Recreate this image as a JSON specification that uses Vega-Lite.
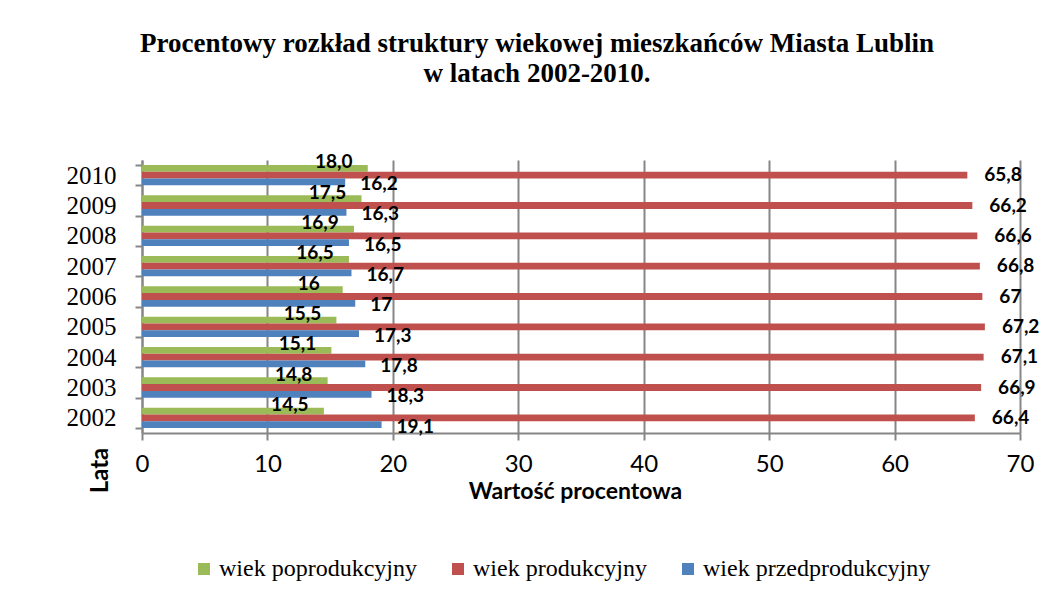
{
  "$schema": "https://vega.github.io/schema/vega-lite/v6.json",
  "width": 878,
  "height": 273,
  "autosize": {"type": "none"},
  "padding": {"left": 142, "top": 160, "right": 23, "bottom": 161},
  "background": "white",
  "view": {"stroke": null},
  "title": {
    "text": ["Procentowy rozkład struktury wiekowej mieszkańców Miasta Lublin", "w latach 2002-2010."],
    "font": "Liberation Serif",
    "fontSize": 27,
    "fontWeight": "bold",
    "color": "black",
    "lineHeight": 30,
    "anchor": "middle",
    "dx": -44,
    "offset": 60
  },
  "data": {
    "values": [
      {"year": 2010, "series": "wiek poprodukcyjny", "value": 18.0, "label": "18,0"},
      {"year": 2010, "series": "wiek produkcyjny", "value": 65.8, "label": "65,8"},
      {"year": 2010, "series": "wiek przedprodukcyjny", "value": 16.2, "label": "16,2"},
      {"year": 2009, "series": "wiek poprodukcyjny", "value": 17.5, "label": "17,5"},
      {"year": 2009, "series": "wiek produkcyjny", "value": 66.2, "label": "66,2"},
      {"year": 2009, "series": "wiek przedprodukcyjny", "value": 16.3, "label": "16,3"},
      {"year": 2008, "series": "wiek poprodukcyjny", "value": 16.9, "label": "16,9"},
      {"year": 2008, "series": "wiek produkcyjny", "value": 66.6, "label": "66,6"},
      {"year": 2008, "series": "wiek przedprodukcyjny", "value": 16.5, "label": "16,5"},
      {"year": 2007, "series": "wiek poprodukcyjny", "value": 16.5, "label": "16,5"},
      {"year": 2007, "series": "wiek produkcyjny", "value": 66.8, "label": "66,8"},
      {"year": 2007, "series": "wiek przedprodukcyjny", "value": 16.7, "label": "16,7"},
      {"year": 2006, "series": "wiek poprodukcyjny", "value": 16, "label": "16"},
      {"year": 2006, "series": "wiek produkcyjny", "value": 67, "label": "67"},
      {"year": 2006, "series": "wiek przedprodukcyjny", "value": 17, "label": "17"},
      {"year": 2005, "series": "wiek poprodukcyjny", "value": 15.5, "label": "15,5"},
      {"year": 2005, "series": "wiek produkcyjny", "value": 67.2, "label": "67,2"},
      {"year": 2005, "series": "wiek przedprodukcyjny", "value": 17.3, "label": "17,3"},
      {"year": 2004, "series": "wiek poprodukcyjny", "value": 15.1, "label": "15,1"},
      {"year": 2004, "series": "wiek produkcyjny", "value": 67.1, "label": "67,1"},
      {"year": 2004, "series": "wiek przedprodukcyjny", "value": 17.8, "label": "17,8"},
      {"year": 2003, "series": "wiek poprodukcyjny", "value": 14.8, "label": "14,8"},
      {"year": 2003, "series": "wiek produkcyjny", "value": 66.9, "label": "66,9"},
      {"year": 2003, "series": "wiek przedprodukcyjny", "value": 18.3, "label": "18,3"},
      {"year": 2002, "series": "wiek poprodukcyjny", "value": 14.5, "label": "14,5"},
      {"year": 2002, "series": "wiek produkcyjny", "value": 66.4, "label": "66,4"},
      {"year": 2002, "series": "wiek przedprodukcyjny", "value": 19.1, "label": "19,1"}
    ]
  },
  "encoding": {
    "y": {
      "field": "year",
      "type": "ordinal",
      "sort": "descending",
      "scale": {"paddingInner": 0.33, "paddingOuter": 0.165},
      "axis": {
        "title": "Lata",
        "titleFont": "Lato",
        "titleFontSize": 24,
        "titleFontWeight": "bold",
        "titleColor": "black",
        "titleAngle": -90,
        "titleAlign": "center",
        "titleBaseline": "middle",
        "titleX": -42,
        "titleY": 310,
        "labelFont": "Liberation Serif",
        "labelFontSize": 25,
        "labelColor": "black",
        "labelPadding": 19,
        "tickBand": "extent",
        "tickSize": 7,
        "tickColor": "#868686",
        "tickWidth": 2,
        "domainColor": "#868686",
        "domainWidth": 2,
        "grid": false
      }
    },
    "x": {
      "field": "value",
      "type": "quantitative",
      "scale": {"domain": [0, 70]},
      "axis": {
        "values": [0, 10, 20, 30, 40, 50, 60, 70],
        "title": "Wartość procentowa",
        "titleFont": "Lato",
        "titleFontSize": 23,
        "titleFontWeight": "bold",
        "titleColor": "black",
        "titleY": 47,
        "titleX": 433,
        "titleBaseline": "top",
        "labelFont": "Lato",
        "labelFontSize": 24,
        "labelColor": "black",
        "labelPadding": 12,
        "labelFlush": false,
        "tickSize": 7,
        "tickColor": "#868686",
        "tickWidth": 2,
        "domainColor": "#868686",
        "domainWidth": 2,
        "grid": true,
        "gridColor": "#868686",
        "gridWidth": 2
      }
    },
    "yOffset": {
      "field": "series",
      "type": "nominal",
      "scale": {"domain": ["wiek poprodukcyjny", "wiek produkcyjny", "wiek przedprodukcyjny"], "paddingInner": 0, "paddingOuter": 0}
    }
  },
  "layer": [
    {
      "mark": {"type": "bar"},
      "encoding": {
        "color": {
          "field": "series",
          "type": "nominal",
          "scale": {
            "domain": ["wiek poprodukcyjny", "wiek produkcyjny", "wiek przedprodukcyjny"],
            "range": ["#9BBB59", "#C0504D", "#4F81BD"]
          },
          "legend": {
            "orient": "none",
            "legendX": 50,
            "legendY": 397,
            "direction": "horizontal",
            "columns": 3,
            "title": null,
            "padding": 0,
            "symbolType": "square",
            "symbolSize": 144,
            "symbolStrokeWidth": 0,
            "labelFont": "Liberation Serif",
            "labelFontSize": 24,
            "labelColor": "black",
            "labelOffset": 3,
            "labelLimit": 400,
            "columnPadding": 29
          }
        }
      }
    },
    {
      "transform": [{"filter": "datum.series === 'wiek poprodukcyjny'"}],
      "mark": {"type": "text", "align": "center", "baseline": "middle", "dx": -34, "dy": -6, "font": "Lato", "fontSize": 19, "fontWeight": "bold", "color": "black"},
      "encoding": {"text": {"field": "label"}}
    },
    {
      "transform": [{"filter": "datum.series === 'wiek produkcyjny'"}],
      "mark": {"type": "text", "align": "left", "baseline": "middle", "dx": 17, "font": "Lato", "fontSize": 19, "fontWeight": "bold", "color": "black"},
      "encoding": {"text": {"field": "label"}}
    },
    {
      "transform": [{"filter": "datum.series === 'wiek przedprodukcyjny'"}],
      "mark": {"type": "text", "align": "left", "baseline": "middle", "dx": 15, "dy": 2, "font": "Lato", "fontSize": 19, "fontWeight": "bold", "color": "black"},
      "encoding": {"text": {"field": "label"}}
    }
  ]
}
